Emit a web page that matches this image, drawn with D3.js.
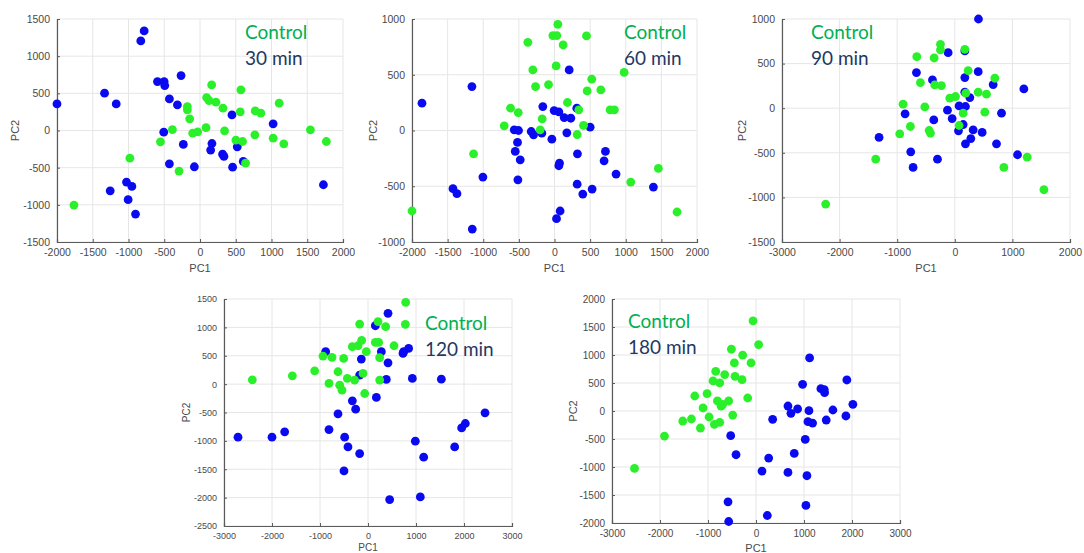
<!DOCTYPE html>
<html>
<head>
<meta charset="utf-8">
<script src="https://cdn.jsdelivr.net/npm/d3@7"></script>
<style>
  body { margin: 0; background: #fff; }
  svg { display: block; }
</style>
</head>
<body>
<div id="chart"></div>
<script>
// PCA scores: green = Control, blue = time point
const control30 = [[163,613],[572,546],[1107,367],[772,264],[851,233],[563,251],[321,300],[223,381],[93,443],[126,403],
  [-177,322],[-177,278],[-144,157],[-386,13],[84,40],[-102,-36],[-33,-18],[344,-4],[767,-58],[1023,-103],
  [1172,-179],[1544,9],[1767,-148],[-553,-152],[502,-130],[595,-148],[637,-439],[-293,-546],[-981,-372],[-1763,-1003]];
const treated30 = [[-781,1339],[-828,1205],[-2000,358],[-1335,502],[-1172,358],[-595,658],[-502,658],[-493,605],[-265,739],[-428,425],
  [-316,345],[447,210],[1023,90],[-507,-22],[-233,-188],[167,-175],[149,-264],[316,-318],[335,-349],[521,-219],
  [-428,-448],[-79,-488],[456,-493],[605,-416],[1726,-730],[-1028,-694],[-953,-752],[-1256,-811],[-1005,-931],[-902,-1124]];

const control60 = [[47,952],[-23,851],[33,851],[121,767],[449,848],[-374,791],[23,579],[-304,543],[977,522],[523,460],
  [-266,394],[-84,412],[458,355],[650,364],[182,251],[-617,200],[-509,161],[341,185],[780,185],[841,185],
  [-173,104],[-706,42],[-201,6],[407,45],[318,-36],[-1136,-209],[1458,-340],[1070,-463],[-2000,-722],[1720,-731]];
const treated60 = [[-1860,245],[-1159,394],[-164,215],[-5,179],[61,167],[136,116],[229,110],[206,543],[313,200],[500,30],
  [-565,6],[-505,0],[-327,-9],[-294,-39],[-178,-24],[-37,-78],[173,-21],[-519,-107],[-551,-188],[-481,-263],
  [322,-209],[715,-188],[696,-272],[864,-391],[1388,-507],[70,-293],[61,-316],[-514,-442],[318,-481],[528,-525],
  [397,-570],[-1005,-418],[-1425,-522],[-1369,-567],[79,-722],[28,-791],[-1154,-884]];

const control90 = [[-249,716],[-249,653],[174,660],[-660,578],[-359,563],[232,422],[-597,287],[-348,261],[-232,254],[695,336],
  [406,179],[550,157],[-87,112],[12,131],[191,168],[-898,45],[-521,15],[145,-56],[521,-45],[75,-194],
  [-771,-205],[-956,-287],[-446,-250],[-423,-280],[-1373,-571],[852,-664],[1257,-549],[1547,-914],[-2242,-1075]];
const treated90 = [[411,1000],[-116,623],[174,642],[-666,399],[-388,317],[174,343],[406,410],[666,265],[1199,216],[174,179],
  [261,119],[75,26],[185,19],[-127,-22],[-46,-116],[-365,-131],[-863,-63],[811,-56],[145,-183],[319,-243],
  [64,-254],[475,-272],[185,-399],[278,-340],[724,-399],[1089,-522],[-1315,-328],[-765,-489],[-724,-664],[-301,-571]];

const control120 = [[785,1441],[778,1053],[-174,1059],[208,1100],[368,1012],[-132,771],[-326,659],[-208,676],[153,735],[222,735],
  [542,676],[-35,571],[243,465],[-938,494],[-750,471],[-507,453],[-625,218],[-1111,235],[-1576,147],[-2410,76],
  [-813,12],[-590,-18],[-542,-106],[-431,100],[-278,71],[-104,188],[243,71],[-69,-165]];
const treated120 = [[417,1247],[153,1029],[847,629],[743,571],[729,541],[278,571],[-882,571],[-139,441],[417,376],[-174,159],
  [382,82],[924,100],[1528,88],[174,-235],[-326,-294],[-257,-441],[-625,-524],[-813,-800],[-486,-935],[-417,-1106],
  [-174,-1224],[-500,-1529],[2438,-506],[2028,-694],[1951,-771],[1806,-1106],[986,-1006],[1160,-1288],[1090,-1988],[451,-2035],
  [-2708,-935],[-2000,-935],[-1736,-841]];

const control180 = [[-62,1610],[55,1186],[-513,1103],[-277,996],[-451,858],[-104,858],[-839,709],[-652,650],[-756,501],[-895,537],
  [-437,620],[-291,560],[-1276,268],[-1019,310],[-173,232],[-804,179],[-569,179],[-693,119],[-728,89],[-1103,54],
  [-978,-107],[-485,-72],[-1526,-179],[-1345,-143],[-1158,-304],[-867,-238],[-756,-203],[-1907,-447],[-2531,-1025]];
const treated180 = [[1117,948],[971,477],[1352,399],[1422,382],[1429,328],[1893,554],[2018,119],[666,89],[867,36],[728,-42],
  [1103,6],[1602,18],[1873,-89],[1463,-161],[1082,-191],[1179,-215],[347,-149],[1026,-507],[-527,-441],[-416,-781],
  [264,-841],[797,-757],[125,-1073],[666,-1097],[1061,-1156],[1040,-1687],[236,-1866],[-583,-1621],[-569,-1973]];

const timeLabels = ["30 min", "60 min", "90 min", "120 min", "180 min"];
const xDomains = [[-2000, 2000], [-2000, 2000], [-3000, 2000], [-3000, 3000], [-3000, 3000]];
const yDomains = [[-1500, 1500], [-1000, 1000], [-1500, 1000], [-2500, 1500], [-2000, 2000]];
const xSteps = [500, 500, 1000, 1000, 1000];
const ySteps = [500, 500, 500, 500, 500];
const controlSets = [control30, control60, control90, control120, control180];
const treatedSets = [treated30, treated60, treated90, treated120, treated180];

// plot boxes (pixels) and where the legend text sits
const boxes = [
  { left: 57,  right: 343,  top: 19,  bottom: 242, textX: 245, textY: 38.5, tick: 10.5, lab: 11, pc2X: 15,  pc1Y: 272 },
  { left: 412, right: 697,  top: 19,  bottom: 242, textX: 624, textY: 38.5, tick: 10.5, lab: 11, pc2X: 373, pc1Y: 272 },
  { left: 782, right: 1070, top: 19,  bottom: 242, textX: 811, textY: 38.5, tick: 10.5, lab: 11, pc2X: 742, pc1Y: 272 },
  { left: 224, right: 512,  top: 299, bottom: 526, textX: 425, textY: 330,  tick: 9,    lab: 10, pc2X: 186, pc1Y: 551 },
  { left: 612, right: 900,  top: 299, bottom: 523, textX: 628, textY: 328,  tick: 10,   lab: 11, pc2X: 573, pc1Y: 552 }
];

const blue = "#0a0af0", green = "#2af02a";
const gridColor = "#e6e6e6", axisColor = "#5a5a5a", tickText = "#4a4a4a";

const svg = d3.select("#chart").append("svg")
  .attr("width", 1084)
  .attr("height", 553)
  .style("font-family", "'Liberation Sans', Arial, sans-serif");

function range(a, b, step) {
  const out = [];
  for (let v = a; v <= b + 1e-9; v += step) out.push(v);
  return out;
}

boxes.forEach(function(b, i) {
  const x = d3.scaleLinear().domain(xDomains[i]).range([b.left, b.right]);
  const y = d3.scaleLinear().domain(yDomains[i]).range([b.bottom, b.top]);
  const xt = range(xDomains[i][0], xDomains[i][1], xSteps[i]);
  const yt = range(yDomains[i][0], yDomains[i][1], ySteps[i]);
  const g = svg.append("g");

  // grid
  g.append("g").selectAll("line").data(xt).join("line")
    .attr("x1", d => x(d)).attr("x2", d => x(d))
    .attr("y1", b.top).attr("y2", b.bottom)
    .attr("stroke", gridColor).attr("stroke-width", 1);
  g.append("g").selectAll("line").data(yt).join("line")
    .attr("x1", b.left).attr("x2", b.right)
    .attr("y1", d => y(d)).attr("y2", d => y(d))
    .attr("stroke", gridColor).attr("stroke-width", 1);

  // axes
  const xAxis = d3.axisBottom(x).tickValues(xt).tickSize(-3).tickPadding(7).tickFormat(d3.format("d"));
  const yAxis = d3.axisLeft(y).tickValues(yt).tickSize(-3).tickPadding(7).tickFormat(d3.format("d"));
  const gx = g.append("g").attr("transform", "translate(0," + b.bottom + ")").call(xAxis);
  const gy = g.append("g").attr("transform", "translate(" + b.left + ",0)").call(yAxis);
  [gx, gy].forEach(function(a) {
    a.select(".domain").attr("stroke", axisColor).attr("stroke-width", 1.2);
    a.selectAll(".tick line").attr("stroke", axisColor);
    a.selectAll(".tick text").attr("fill", tickText).style("font-size", b.tick + "px")
      .style("font-family", "'Liberation Sans', Arial, sans-serif");
  });
  gx.selectAll(".tick text").text(d => d3.format("d")(d).replace("−", "-"));
  gy.selectAll(".tick text").text(d => d3.format("d")(d).replace("−", "-"));

  // axis labels
  g.append("text")
    .attr("x", (b.left + b.right) / 2).attr("y", b.pc1Y)
    .attr("text-anchor", "middle").attr("fill", tickText)
    .style("font-size", b.lab + "px").text("PC1");
  g.append("text")
    .attr("transform", "translate(" + b.pc2X + "," + ((b.top + b.bottom) / 2) + ") rotate(-90)")
    .attr("dy", "0.35em")
    .attr("text-anchor", "middle").attr("fill", tickText)
    .style("font-size", b.lab + "px").text("PC2");

  // points
  g.append("g").selectAll("circle").data(treatedSets[i]).join("circle")
    .attr("cx", d => x(d[0])).attr("cy", d => y(d[1])).attr("r", 4.4)
    .attr("fill", blue);
  g.append("g").selectAll("circle").data(controlSets[i]).join("circle")
    .attr("cx", d => x(d[0])).attr("cy", d => y(d[1])).attr("r", 4.4)
    .attr("fill", green);

  // legend text
  g.append("text")
    .attr("x", b.textX).attr("y", b.textY)
    .attr("fill", "#00b050")
    .style("font-family", "Lato, 'Open Sans', sans-serif").style("font-size", "19px")
    .text("Control");
  g.append("text")
    .attr("x", b.textX).attr("y", b.textY + 26)
    .attr("fill", "#1f3864")
    .style("font-family", "Lato, 'Open Sans', sans-serif").style("font-size", "19px")
    .text(timeLabels[i]);
});
</script>
</body>
</html>
